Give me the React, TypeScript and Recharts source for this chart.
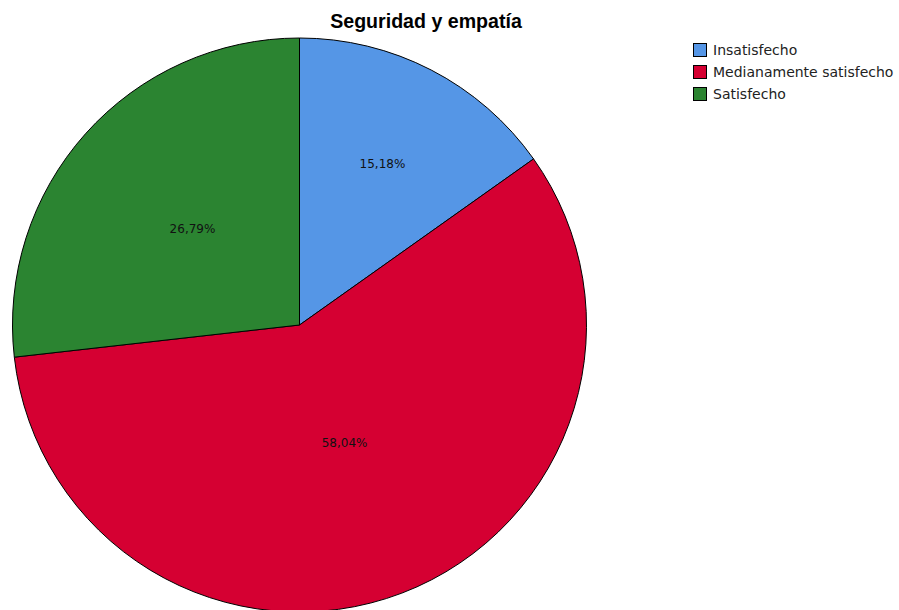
import { Cell, Legend, Pie, PieChart } from 'recharts';

const categories = ['Insatisfecho', 'Medianamente satisfecho', 'Satisfecho'];
const percents = [15.18, 58.04, 26.79];

const COLORS = ['#5596e6', '#d50032', '#2b8431'];
// SPSS puts each label at its own distance from the centre
const LABEL_RADIUS = [0.63, 0.44, 0.5];
const RAD = Math.PI / 180;

const data = categories.map((name, i) => ({ name, value: percents[i] }));

function renderLabel(props: any) {
  const { cx, cy, midAngle, outerRadius, index, value } = props;
  const r = outerRadius * LABEL_RADIUS[index];
  const x = cx + r * Math.cos(-midAngle * RAD);
  const y = cy + r * Math.sin(-midAngle * RAD);
  return (
    <text
      x={x}
      y={y}
      textAnchor="middle"
      dominantBaseline="central"
      fontSize={12}
      fontFamily="DejaVu Sans"
      fill="#111"
    >
      {value.toFixed(2).replace('.', ',')}%
    </text>
  );
}

function LegendBox() {
  return (
    <div style={{ fontFamily: 'DejaVu Sans', fontSize: 14, color: '#222' }}>
      {data.map((d, i) => (
        <div key={d.name} style={{ display: 'flex', alignItems: 'center', height: 22 }}>
          <span
            style={{
              display: 'inline-block',
              width: 12,
              height: 12,
              background: COLORS[i],
              border: '1px solid #000',
              marginRight: 6,
            }}
          />
          {d.name}
        </div>
      ))}
    </div>
  );
}

export default function App() {
  return (
    <div style={{ position: 'absolute', left: 0, top: 0, width: 899, height: 610, background: '#fff' }}>
      <div
        style={{
          position: 'absolute',
          left: 0,
          width: 852,
          top: 10,
          textAlign: 'center',
          fontFamily: 'Liberation Sans',
          fontWeight: 'bold',
          fontSize: 19.6,
          color: '#000',
        }}
      >
        Seguridad y empatía
      </div>
      <PieChart width={899} height={610} margin={{ top: 0, right: 0, bottom: 0, left: 0 }}>
        <Pie
          data={data}
          dataKey="value"
          nameKey="name"
          cx={299.5}
          cy={325}
          outerRadius={287}
          startAngle={90}
          endAngle={-270}
          stroke="#000"
          strokeWidth={1}
          label={renderLabel}
          labelLine={false}
          isAnimationActive={false}
        >
          {data.map((d, i) => (
            <Cell key={d.name} fill={COLORS[i]} />
          ))}
        </Pie>
        <Legend
          content={<LegendBox />}
          layout="vertical"
          wrapperStyle={{ left: 693, top: 39, width: 210 }}
        />
      </PieChart>
    </div>
  );
}
